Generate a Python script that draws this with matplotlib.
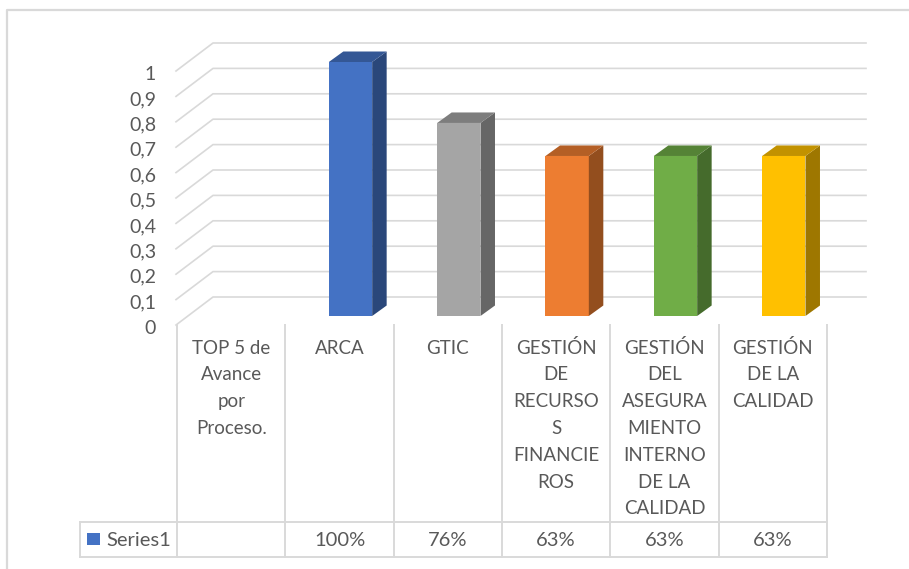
import matplotlib
matplotlib.use("Agg")
import matplotlib.pyplot as plt
from matplotlib.colors import to_rgb

plt.rcParams['font.family'] = ['Lato', 'DejaVu Sans']

categories = ["TOP 5 de\nAvance\npor\nProceso.", "ARCA", "GTIC",
              "GESTIÓN\nDE\nRECURSO\nS\nFINANCIE\nROS",
              "GESTIÓN\nDEL\nASEGURA\nMIENTO\nINTERNO\nDE LA\nCALIDAD",
              "GESTIÓN\nDE LA\nCALIDAD"]
values = [0, 1, 0.76, 0.63, 0.63, 0.63]
table_labels = ["", "100%", "76%", "63%", "63%", "63%"]
y_ticks = [0, 0.1, 0.2, 0.3, 0.4, 0.5, 0.6, 0.7, 0.8, 0.9, 1]
y_labels = ["0", "0,1", "0,2", "0,3", "0,4", "0,5", "0,6", "0,7", "0,8", "0,9", "1"]
bar_colors = ["#4472C4", "#4472C4", "#A5A5A5", "#ED7D31", "#70AD47", "#FFC000"]
series_name = "Series1"

W, H = 909, 569
GRAY = "#D9D9D9"
TEXT = "#595959"
CELL = 108.33
UNIT = 254.0
TABLE_X0 = 177


def shade(color, f):
    return tuple(c * f for c in to_rgb(color))


fig = plt.figure(figsize=(W / 100, H / 100), dpi=100, facecolor="white")

# pixel overlay for the table and the frame
bg = fig.add_axes([0, 0, 1, 1])
bg.set_xlim(0, W)
bg.set_ylim(H, 0)
bg.axis("off")

bg.plot([7, 7, W], [H, 10, 10], color=GRAY, lw=1.6, solid_capstyle="butt")

for i in range(len(categories) + 1):
    x = TABLE_X0 + i * CELL
    bg.plot([x, x], [325, 557], color=GRAY, lw=1.4)
for y in [522, 557]:
    bg.plot([80, TABLE_X0 + 6 * CELL], [y, y], color=GRAY, lw=1.4)
bg.plot([80, 80], [522, 557], color=GRAY, lw=1.4)

for i, cat in enumerate(categories):
    xc = TABLE_X0 + (i + 0.5) * CELL
    for j, line in enumerate(cat.split("\n")):
        bg.text(xc, 348 + j * 26.8, line, ha="center", va="center", fontsize=13.5, color=TEXT)
    bg.text(xc, 540, table_labels[i], ha="center", va="center", fontsize=14.5, color=TEXT)

bg.fill([87, 100, 100, 87], [533, 533, 545, 545], color=bar_colors[0], lw=0)
bg.text(106, 540, series_name, ha="left", va="center", fontsize=14.5, color=TEXT)

# data axes, front plane of the bars: y 0..1 is 316..62 px
ax_left = 188
ax_w = 6 * CELL
ax = fig.add_axes([ax_left / W, (H - 316) / H, ax_w / W, UNIT / H])
ax.set_xlim(-0.5, 5.5)
ax.set_ylim(0, 1)
ax.axis("off")
ax.patch.set_alpha(0)

px_x = 1 / CELL
px_y = 1 / UNIT
to_x = lambda p: (p - ax_left) * px_x - 0.5

for v, lab in zip(y_ticks, y_labels):
    ax.plot([to_x(176), to_x(213), to_x(866)],
            [v - 9 * px_y, v + 19 * px_y, v + 19 * px_y],
            color=GRAY, lw=1.2, clip_on=False, zorder=1)
    ax.text(to_x(156), v - 12 * px_y, lab, ha="right", va="center",
            fontsize=14, color=TEXT, clip_on=False)

bar_w = 0.4
dx = 14.5 * px_x
dy = 10.5 * px_y
for i, v in enumerate(values):
    if v == 0:
        continue
    c = bar_colors[i]
    ax.bar(i, v, width=bar_w, color=c, zorder=3, clip_on=False)
    l, r = i - bar_w / 2, i + bar_w / 2
    ax.fill([r, r, r + dx, r + dx], [0, v, v + dy, dy], color=shade(c, 0.62), lw=0, zorder=3, clip_on=False)
    ax.fill([l, r, r + dx, l + dx], [v, v, v + dy, v + dy], color=shade(c, 0.76), lw=0, zorder=3, clip_on=False)

fig.savefig("out.png", dpi=100, facecolor="white")
